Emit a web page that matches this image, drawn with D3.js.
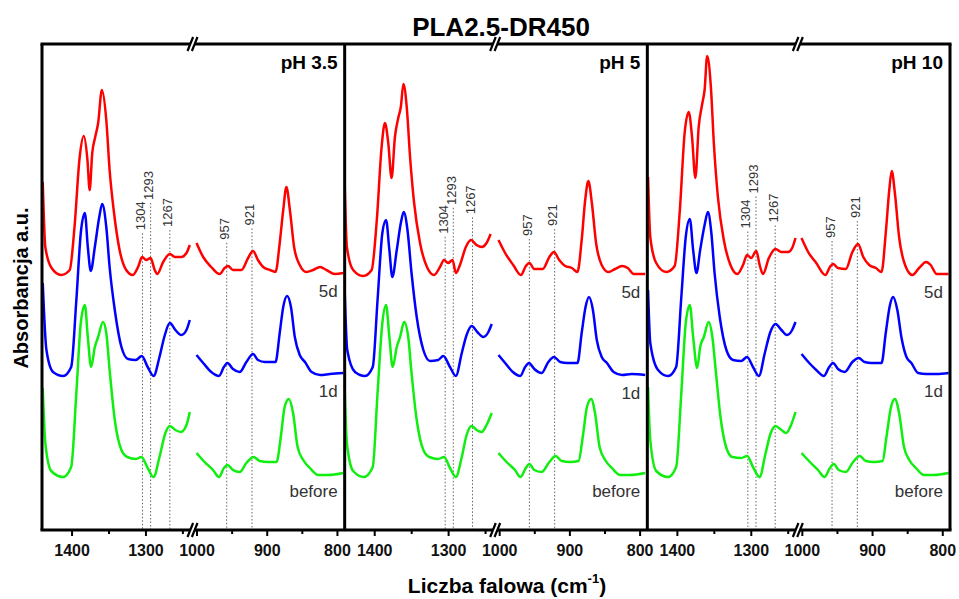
<!DOCTYPE html>
<html>
<head>
<meta charset="utf-8">
<script src="https://cdn.jsdelivr.net/npm/d3@7"></script>
<style>
  body { margin: 0; background: #fff; }
  svg { display: block; font-family: "Liberation Sans", Arial, sans-serif; }
</style>
</head>
<body>
<svg id="chart" width="959" height="599"></svg>
<script>
// FTIR spectra of PLA2.5-DR450 after incubation at three pH values.
// Each trace: [wavenumber (cm-1), absorbance (a.u., stacked)].

const panelTitles = ["pH 3.5", "pH 5", "pH 10"];
const seriesNames = ["5d", "1d", "before"];
const seriesColors = ["#ff0000", "#0000ff", "#10ee10"];

const highTicks = [1400, 1300];
const highMinorTicks = [1350, 1250];
const lowTicks = [1000, 900, 800];
const lowMinorTicks = [950, 850];

const bandsHigh = [1304, 1293, 1267];
const bandsLow = [957, 921];
const raisedBands = [1293];

// ---- pH 3.5 ----
const ph35_5d = [
  [1439,3.48],[1435.5,2.83],[1427,2.62],[1414,2.55],[1402.5,2.60],[1396,3.03],[1389,3.73],[1383.5,3.94],
  [1378.5,3.70],[1375.5,3.40],[1372,3.77],[1368,3.93],[1364,4.07],[1359,4.40],[1353,4.10],[1348.5,3.60],
  [1342.5,3.17],[1335,2.80],[1326,2.60],[1317,2.55],[1310,2.63],[1304.5,2.73],[1299,2.70],[1293,2.72],
  [1287.5,2.60],[1284,2.56],[1276,2.68],[1267,2.76],[1260,2.73],[1251.5,2.73],[1244.5,2.77],[1240,2.85],
  [1000,2.87],[990.5,2.73],[979,2.63],[967,2.56],[960,2.62],[955,2.64],[948,2.60],[936,2.60],
  [926.5,2.72],[919.5,2.79],[912.5,2.70],[905,2.63],[895.5,2.60],[887.5,2.58],[881.5,2.87],[876.5,3.20],
  [872,3.43],[867,3.20],[861,2.83],[853,2.65],[843.5,2.58],[834,2.60],[824,2.63],[815,2.60],[803,2.56],[791,2.57]
];
const ph35_1d = [
  [1439,2.47],[1434,1.80],[1425,1.58],[1411.5,1.54],[1400.5,1.63],[1393.5,2.30],[1387.5,2.97],[1382,3.17],
  [1378,2.83],[1374,2.59],[1368.5,2.83],[1362.5,3.13],[1358.5,3.26],[1353,3.03],[1348.5,2.63],[1341.5,2.20],
  [1332.5,1.83],[1323.5,1.71],[1313,1.70],[1305,1.74],[1297,1.63],[1289,1.54],[1281,1.73],[1274.5,1.93],
  [1267,2.07],[1259.5,2.00],[1251.5,1.95],[1244.5,2.00],[1240,2.10],
  [1000,1.75],[990.5,1.67],[979,1.58],[968,1.54],[961,1.63],[956,1.67],[948,1.61],[938.5,1.58],
  [929,1.68],[919.5,1.76],[912.5,1.70],[902.5,1.68],[887.5,1.68],[881.5,1.97],[876.5,2.23],[871,2.34],
  [865.5,2.23],[860,1.93],[853,1.75],[845.5,1.68],[836,1.58],[824,1.55],[810,1.56],[791,1.57]
];
const ph35_before = [
  [1439,1.42],[1435.5,0.87],[1427.5,0.59],[1411.5,0.53],[1400.5,0.63],[1393.5,1.37],[1387.5,2.07],[1382,2.25],
  [1378,1.93],[1373.5,1.63],[1368.5,1.83],[1364,1.93],[1357.5,2.08],[1353,1.97],[1348.5,1.60],[1341.5,1.10],
  [1332.5,0.80],[1324.5,0.73],[1313,0.71],[1305.5,0.73],[1297,0.62],[1289,0.53],[1281,0.73],[1273,0.97],
  [1267,1.04],[1259.5,1.00],[1252,0.98],[1244.5,1.05],[1240,1.18],
  [1000,0.77],[988.5,0.68],[976.5,0.60],[968,0.53],[961,0.62],[956,0.65],[948,0.60],[938.5,0.58],
  [929,0.67],[918.5,0.73],[910,0.69],[898,0.68],[886,0.68],[880,0.93],[874.5,1.23],[868.5,1.31],
  [862.5,1.17],[856,0.83],[848,0.70],[838.5,0.62],[826.5,0.55],[812.5,0.55],[791,0.57]
];

// ---- pH 5 ----
const ph5_5d = [
  [1440,3.48],[1437,2.83],[1428.5,2.60],[1415,2.54],[1403.5,2.60],[1396.5,3.10],[1390,3.83],[1385.5,4.07],
  [1381,3.87],[1376.5,3.52],[1372,3.93],[1367.5,4.12],[1364,4.23],[1360.5,4.46],[1356,4.23],[1351.5,3.73],
  [1346,3.27],[1338,2.87],[1328,2.62],[1319,2.55],[1311,2.63],[1305.5,2.70],[1300,2.67],[1294,2.70],
  [1289.5,2.57],[1284,2.65],[1276,2.83],[1269,2.90],[1261.5,2.85],[1254.5,2.83],[1248,2.87],[1242.5,2.96],
  [1001,2.90],[991.5,2.77],[980,2.65],[969,2.55],[962,2.64],[957,2.67],[950,2.61],[938,2.61],
  [928.5,2.73],[922,2.78],[914.5,2.70],[906,2.64],[896.5,2.62],[888.5,2.58],[882.5,2.90],[877.5,3.30],
  [873,3.49],[868,3.27],[862,2.87],[854,2.65],[844.5,2.58],[835,2.61],[825,2.64],[817,2.62],[808.5,2.56],[792,2.56]
];
const ph5_1d = [
  [1440,2.40],[1436.5,1.80],[1426,1.58],[1412.5,1.54],[1402,1.63],[1395.5,2.30],[1389,2.97],[1384,3.10],
  [1379.5,2.80],[1375.5,2.53],[1369.5,2.80],[1364,3.07],[1360,3.18],[1355,3.00],[1349.5,2.57],[1342.5,2.13],
  [1333.5,1.80],[1324.5,1.69],[1313.5,1.70],[1306.5,1.74],[1297.5,1.63],[1289.5,1.54],[1281.5,1.77],[1275,1.95],
  [1268,2.04],[1260.5,1.98],[1252.5,1.93],[1245.5,1.98],[1241,2.06],
  [1001,1.75],[991.5,1.67],[980.5,1.58],[970,1.54],[963,1.63],[957.5,1.67],[950,1.61],[939.5,1.57],
  [930,1.68],[922,1.73],[913,1.68],[903,1.67],[888.5,1.67],[882.5,1.97],[877,2.23],[872,2.33],
  [866.5,2.20],[861,1.90],[854,1.73],[846.5,1.67],[837,1.58],[825,1.55],[811,1.56],[792,1.55]
];
const ph5_before = [
  [1440,1.42],[1437,0.87],[1428.5,0.59],[1414,0.53],[1402,0.63],[1395.5,1.37],[1389,2.07],[1384,2.25],
  [1379.5,1.93],[1375,1.63],[1369.5,1.83],[1365,1.93],[1359.5,2.08],[1354,1.93],[1349.5,1.57],[1342.5,1.10],
  [1333.5,0.80],[1325.5,0.73],[1313.5,0.71],[1305.5,0.73],[1297.5,0.62],[1289.5,0.53],[1281.5,0.73],[1275,0.95],
  [1268,1.04],[1261.5,1.00],[1254.5,0.98],[1248,1.05],[1241,1.17],
  [1001,0.77],[989.5,0.68],[977.5,0.60],[969.5,0.53],[962,0.62],[957,0.66],[950,0.60],[939.5,0.58],
  [928.5,0.68],[919.5,0.74],[911,0.69],[899,0.68],[887,0.69],[881,0.93],[875,1.23],[869,1.31],
  [863.5,1.17],[857,0.83],[849,0.70],[839.5,0.62],[827.5,0.55],[813.5,0.55],[792,0.57]
];

// ---- pH 10 ----
const ph10_5d = [
  [1439,3.53],[1436,2.93],[1428,2.67],[1414.5,2.58],[1403,2.64],[1396,3.20],[1389.5,3.97],[1384,4.18],
  [1379.5,3.93],[1375,3.52],[1370.5,4.03],[1365.5,4.27],[1362.5,4.40],[1359,4.74],[1354,4.43],[1350,3.87],
  [1344.5,3.33],[1336.5,2.90],[1327.5,2.65],[1318,2.56],[1310.5,2.65],[1305,2.75],[1299.5,2.72],[1292.5,2.79],
  [1288,2.65],[1283.5,2.56],[1275.5,2.72],[1266.5,2.81],[1258.5,2.78],[1249.5,2.78],[1244,2.82],[1239.5,2.92],
  [1000.5,2.92],[991,2.78],[979.5,2.67],[966.5,2.55],[960,2.63],[955.5,2.66],[948.5,2.62],[937.5,2.61],
  [928,2.78],[920,2.86],[912.5,2.73],[904,2.65],[894.5,2.62],[886.5,2.58],[880.5,2.97],[875.5,3.40],
  [872,3.59],[867.5,3.37],[861.5,2.93],[853,2.65],[842.5,2.55],[833,2.62],[823,2.68],[816.5,2.65],[808,2.56],[791,2.56]
];
const ph10_1d = [
  [1439,2.40],[1436,1.87],[1425.5,1.60],[1412,1.54],[1401,1.63],[1394,2.33],[1388,2.93],[1382.5,3.11],
  [1378,2.80],[1373.5,2.57],[1368.5,2.80],[1362.5,3.05],[1358,3.18],[1353.5,2.98],[1349,2.57],[1342,2.13],
  [1333,1.80],[1324,1.70],[1313,1.69],[1305,1.73],[1297,1.63],[1289,1.54],[1281,1.77],[1273.5,1.98],
  [1266.5,2.06],[1258.5,2.00],[1251,1.95],[1244,2.00],[1239.5,2.08],
  [1000.5,1.76],[989.5,1.67],[979.5,1.60],[968.5,1.54],[961,1.63],[955.5,1.67],[948.5,1.61],[939,1.58],
  [928,1.68],[919,1.72],[910.5,1.68],[901,1.67],[886.5,1.67],[880.5,1.97],[874.5,2.25],[870,2.33],
  [864,2.20],[858,1.92],[851,1.73],[844,1.67],[834.5,1.57],[822.5,1.56],[808,1.56],[791,1.57]
];
const ph10_before = [
  [1439,1.43],[1436,0.90],[1428,0.59],[1412,0.53],[1401,0.63],[1394,1.37],[1388,2.07],[1382.5,2.25],
  [1378,1.93],[1372.5,1.62],[1368.5,1.83],[1363.5,1.93],[1357,2.08],[1352,1.93],[1347.5,1.60],[1341,1.13],
  [1333,0.82],[1325,0.73],[1313,0.72],[1305,0.74],[1297,0.63],[1288,0.53],[1280.5,0.75],[1273,0.97],
  [1266.5,1.04],[1258.5,1.00],[1252,0.97],[1245.5,1.05],[1239.5,1.18],
  [1000.5,0.77],[988.5,0.68],[977,0.60],[967.5,0.53],[960,0.62],[954.5,0.66],[947.5,0.60],[937.5,0.58],
  [927,0.68],[917.5,0.74],[909,0.69],[897.5,0.68],[885,0.69],[879.5,0.93],[873,1.23],[867.5,1.31],
  [861.5,1.17],[854.5,0.83],[847,0.70],[837.5,0.62],[826,0.55],[812.5,0.55],[791,0.57]
];

const panelSeries = [
  [ph35_5d, ph35_1d, ph35_before],
  [ph5_5d, ph5_1d, ph5_before],
  [ph10_5d, ph10_1d, ph10_before]
];

// ---------------- layout ----------------
const svg = d3.select("#chart");
const plotLeft = 42, plotRight = 950, plotTop = 44, plotBottom = 530;
const panelW = (plotRight - plotLeft) / 3;
const highDomain = [1440, 1237];
const lowDomain = [1005, 789];
const breakSplit = 1100; // wavenumbers above this belong to the high-wavenumber segment
const highWidth = 150;

const y = d3.scaleLinear().domain([0, 4.86]).range([plotBottom, plotTop]);

function valueAt(series, wn) {
  for (let i = 0; i < series.length - 1; i++) {
    const a = series[i], b = series[i + 1];
    if (a[0] >= wn && b[0] <= wn) {
      const t = (a[0] - wn) / (a[0] - b[0]);
      return a[1] + t * (b[1] - a[1]);
    }
  }
  return series[0][1];
}

const defs = svg.append("defs");

panelSeries.forEach((seriesSet, p) => {
  const L = plotLeft + p * panelW;
  const xHigh = d3.scaleLinear().domain(highDomain).range([L, L + highWidth]);
  const xLow = d3.scaleLinear().domain(lowDomain).range([L + highWidth + 1, L + panelW]);
  const g = svg.append("g").attr("class", "panel");

  defs.append("clipPath").attr("id", "clip" + p)
    .append("rect").attr("x", L).attr("y", plotTop).attr("width", panelW).attr("height", plotBottom - plotTop);

  // band markers (dotted) with rotated labels, placed above the 5d trace
  const red = seriesSet[0];
  const bandGroup = g.append("g");
  const drawBand = (wn, xs) => {
    const lift = raisedBands.includes(wn) ? 58 : 27;
    const yb = y(valueAt(red, wn)) - lift;
    const xb = xs(wn);
    bandGroup.append("line")
      .attr("x1", xb).attr("x2", xb).attr("y1", yb + 3).attr("y2", plotBottom)
      .attr("stroke", "#666").attr("stroke-width", 1).attr("stroke-dasharray", "1.5,2");
    bandGroup.append("text")
      .attr("transform", `translate(${xb + 2.5},${yb}) rotate(-90)`)
      .attr("font-family", "'Liberation Sans Narrow','Arial Narrow','Liberation Sans',sans-serif")
      .attr("font-size", 13).attr("fill", "#333").attr("text-anchor", "start")
      .text(wn);
  };
  bandsHigh.forEach(wn => drawBand(wn, xHigh));
  bandsLow.forEach(wn => drawBand(wn, xLow));

  // spectra
  const lineHigh = d3.line().x(d => xHigh(d[0])).y(d => y(d[1])).curve(d3.curveMonotoneX);
  const lineLow = d3.line().x(d => xLow(d[0])).y(d => y(d[1])).curve(d3.curveMonotoneX);
  const traces = g.append("g").attr("clip-path", `url(#clip${p})`);
  seriesSet.forEach((s, i) => {
    traces.append("path").attr("d", lineHigh(s.filter(d => d[0] > breakSplit)))
      .attr("fill", "none").attr("stroke", seriesColors[i]).attr("stroke-width", 2.5)
      .attr("stroke-linejoin", "round");
    traces.append("path").attr("d", lineLow(s.filter(d => d[0] < breakSplit)))
      .attr("fill", "none").attr("stroke", seriesColors[i]).attr("stroke-width", 2.5)
      .attr("stroke-linejoin", "round");
    // series label under the right end of each trace
    g.append("text")
      .attr("x", L + panelW - 7).attr("y", y(s[s.length - 1][1]) + 24)
      .attr("text-anchor", "end").attr("font-size", 17).attr("fill", "#333")
      .text(seriesNames[i]);
  });

  // pH label
  g.append("text").attr("x", L + panelW - 7).attr("y", 69)
    .attr("text-anchor", "end").attr("font-size", 19).attr("font-weight", "bold")
    .text(panelTitles[p]);

  // bottom axes (major + minor) for each segment
  const axisStyle = sel => {
    sel.select(".domain").remove();
    sel.selectAll(".tick line").attr("stroke", "#000").attr("stroke-width", 2);
    sel.selectAll(".tick text").attr("font-size", 16).attr("font-weight", "bold")
      .attr("font-family", "'Liberation Sans', Arial, sans-serif").attr("fill", "#111");
  };
  [[xHigh, highTicks, highMinorTicks], [xLow, lowTicks, lowMinorTicks]].forEach(([xs, major, minor]) => {
    g.append("g").attr("transform", `translate(0,${plotBottom})`)
      .call(d3.axisBottom(xs).tickValues(major).tickSize(6).tickPadding(9).tickFormat(d3.format("d")))
      .call(axisStyle);
    g.append("g").attr("transform", `translate(0,${plotBottom})`)
      .call(d3.axisBottom(xs).tickValues(minor).tickSize(4).tickFormat(""))
      .call(axisStyle);
  });
});

// frame
const frame = svg.append("g").attr("stroke", "#000").attr("stroke-width", 3).attr("fill", "none");
frame.append("line").attr("x1", plotLeft - 1.5).attr("x2", plotRight + 1.5).attr("y1", plotTop).attr("y2", plotTop);
frame.append("line").attr("x1", plotLeft - 1.5).attr("x2", plotRight + 1.5).attr("y1", plotBottom).attr("y2", plotBottom);
d3.range(4).forEach(i => {
  const xv = plotLeft + i * panelW;
  frame.append("line").attr("x1", xv).attr("x2", xv).attr("y1", plotTop).attr("y2", plotBottom);
});

// axis-break marks on the top and bottom edges
const breaks = svg.append("g");
d3.range(3).forEach(p => {
  const xb = plotLeft + p * panelW + highWidth + 0.5;
  [plotTop, plotBottom].forEach(yb => {
    breaks.append("line").attr("x1", xb - 2.5).attr("y1", yb + 6).attr("x2", xb + 2.5).attr("y2", yb - 6)
      .attr("stroke", "#fff").attr("stroke-width", 3.5);
    [-2.2, 2.2].forEach(o => {
      breaks.append("line")
        .attr("x1", xb + o - 2.8).attr("y1", yb + 7).attr("x2", xb + o + 2.8).attr("y2", yb - 7)
        .attr("stroke", "#000").attr("stroke-width", 2.2);
    });
  });
});

// titles
svg.append("text").attr("x", 501).attr("y", 36).attr("text-anchor", "middle")
  .attr("font-size", 26).attr("font-weight", "bold").text("PLA2.5-DR450");

const xl = svg.append("text").attr("x", 507).attr("y", 593).attr("text-anchor", "middle")
  .attr("font-size", 21).attr("font-weight", "bold");
xl.append("tspan").text("Liczba falowa (cm");
xl.append("tspan").attr("font-size", 13).attr("dy", -10).text("-1");
xl.append("tspan").attr("dy", 10).text(")");

svg.append("text").attr("transform", "translate(28,288) rotate(-90)")
  .attr("text-anchor", "middle").attr("font-size", 20).attr("font-weight", "bold")
  .text("Absorbancja a.u.");
</script>
</body>
</html>
